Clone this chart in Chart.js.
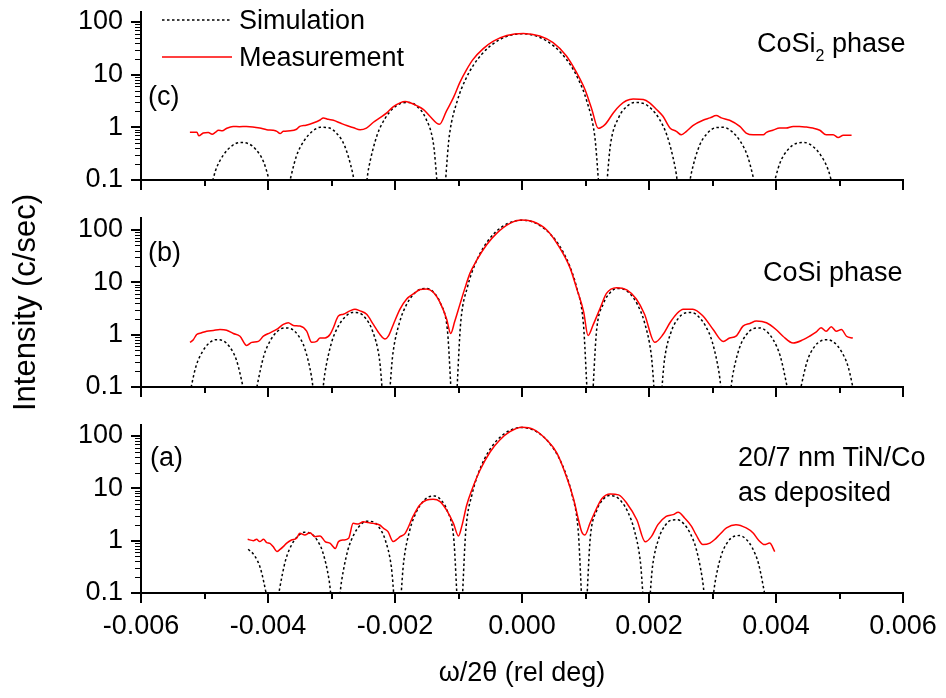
<!DOCTYPE html>
<html>
<head>
<meta charset="utf-8">
<script src="https://cdn.jsdelivr.net/npm/chart.js@4.4.1/dist/chart.umd.min.js"></script>
<style>
  html, body { margin: 0; padding: 0; background: #ffffff; }
  #wrap { position: relative; width: 946px; height: 698px; overflow: hidden; background: #ffffff;
          font-family: "Liberation Sans", Arial, sans-serif; color: #000; }
  canvas { position: absolute; left: 0; }
  .t { position: absolute; font-size: 27px; line-height: 27px; white-space: nowrap; transform: translateY(-50%); }
  .sub { font-size: 16px; position: relative; top: 9px; }
</style>
</head>
<body>
<div id="wrap">
  <canvas id="cC" width="946" height="200" style="top:0px"></canvas>
  <canvas id="cB" width="946" height="400" style="top:100px"></canvas>
  <canvas id="cA" width="946" height="298" style="top:400px"></canvas>

  <svg style="position:absolute;left:0;top:0" width="260" height="70">
    <line x1="162" y1="20" x2="232" y2="20" stroke="#000" stroke-width="1.5" stroke-dasharray="2.5 2.5"/>
    <line x1="162" y1="57" x2="232" y2="57" stroke="#ff0000" stroke-width="1.5"/>
  </svg>
  <div class="t" style="left:239px; top:20px">Simulation</div>
  <div class="t" style="left:239px; top:57px">Measurement</div>

  <div class="t" style="left:148px; top:96px">(c)</div>
  <div class="t" style="left:148px; top:252px">(b)</div>
  <div class="t" style="left:150px; top:457px">(a)</div>

  <div class="t" style="left:757px; top:45px">CoSi<span class="sub">2</span> phase</div>
  <div class="t" style="left:763px; top:272px">CoSi phase</div>
  <div class="t" style="left:738px; top:457px">20/7 nm TiN/Co</div>
  <div class="t" style="left:738px; top:492px">as deposited</div>
</div>

<script>
// ---------------- tick values ----------------
const xMajorTicks = [-0.006, -0.004, -0.002, 0, 0.002, 0.004, 0.006];
const xMinorTicks = [-0.005, -0.003, -0.001, 0.001, 0.003, 0.005];
const yMajorTicks = [0.1, 1, 10, 100];
const yMinorTicks = [0.2,0.3,0.4,0.5,0.6,0.7,0.8,0.9, 2,3,4,5,6,7,8,9, 20,30,40,50,60,70,80,90];

// ---------------- panel (c) CoSi2 phase ----------------
const simX_c = [-0.005207,-0.00508,-0.004953,-0.004826,-0.004699,-0.004572,-0.004445,-0.004318,-0.004191,-0.004064,
-0.003937,-0.00381,-0.003683,-0.003556,-0.003429,-0.003302,-0.003175,-0.003048,-0.002921,-0.002794,
-0.002667,-0.00254,-0.002413,-0.002286,-0.002159,-0.002032,-0.001905,-0.001778,-0.001651,-0.001524,
-0.001397,-0.00127,-0.001143,-0.001016,-0.000889,-0.000762,-0.000635,-0.000508,-0.000381,-0.000254,
-0.000127,0,
0.000127,0.000254,0.000381,0.000508,0.000635,0.000762,0.000889,0.001016,0.001143,0.00127,
0.001397,0.001524,0.001651,0.001778,0.001905,0.002032,0.002159,0.002286,0.002413,0.00254,
0.002667,0.002794,0.002921,0.003048,0.003175,0.003302,0.003429,0.003556,0.003683,0.00381,
0.003937,0.004064,0.004191,0.004318,0.004445,0.004572,0.004699,0.004826,0.004953,0.00508,0.005207];
const simY_c = [0.036,0.02,0.040,0.151,0.302,0.441,0.516,0.495,0.380,0.213,
0.063,0.02,0.071,0.276,0.562,0.838,1.00,0.984,0.775,0.447,
0.135,0.02,0.171,0.687,1.46,2.28,2.86,2.97,2.50,1.55,
0.508,0.02,0.717,3.28,8.12,15.3,24.3,34.4,44.2,52.5,
58.1,60,
58.1,52.5,44.2,34.4,24.3,15.3,8.12,3.28,0.717,0.02,
0.508,1.55,2.50,2.97,2.86,2.28,1.46,0.687,0.171,0.02,
0.135,0.447,0.775,0.984,1.00,0.838,0.562,0.276,0.071,0.02,
0.063,0.213,0.380,0.495,0.516,0.441,0.302,0.151,0.040,0.02,0.036];
const measX_c = [-0.00523,-0.00512,-0.00509,-0.00502,-0.00494,-0.00488,-0.00483,-0.00478,-0.00472,-0.00465,
-0.00455,-0.00445,-0.00434,-0.00424,-0.00413,-0.00402,-0.00392,-0.00386,-0.00381,-0.00376,
-0.00365,-0.00355,-0.0035,-0.0034,-0.00329,-0.00318,-0.00313,-0.00305,-0.00297,-0.00287,
-0.00276,-0.00265,-0.00255,-0.00245,-0.00234,-0.00224,-0.00213,-0.00203,-0.00192,-0.00184,
-0.00176,-0.00166,-0.00155,-0.00145,-0.0013,-0.00119,-0.00108,-0.00098,-0.00087,-0.00077,
-0.00061,-0.00045,-0.00024,0.00002,0.00028,0.00049,0.0007,0.00086,0.00099,0.0011,
0.0012,0.00131,0.00144,0.00154,0.00164,0.00175,0.00191,0.00201,0.00212,0.00222,
0.00233,0.00243,0.00251,0.00259,0.00269,0.00285,0.00296,0.00306,0.00314,0.00327,
0.00343,0.00353,0.00364,0.0038,0.00385,0.00395,0.00406,0.00416,0.00427,0.00437,
0.00448,0.00458,0.00469,0.00479,0.0049,0.00498,0.00506,0.00519];
const measY_c = [0.81,0.81,0.69,0.78,0.80,0.74,0.80,0.88,0.86,0.96,
1.04,1.03,1.04,1.02,0.97,0.90,0.88,0.84,0.76,0.84,
0.86,0.92,1.04,1.10,1.21,1.38,1.51,1.42,1.36,1.22,
1.08,0.98,0.90,0.97,1.25,1.51,1.88,2.45,2.92,3.09,
2.92,2.59,2.17,1.62,1.14,2.04,3.66,7.05,12.6,19.5,
31.2,43.3,55.6,60.8,54.2,40.5,22.6,10.9,5.27,2.19,
0.96,1.14,1.9,2.6,3.2,3.47,3.38,2.92,2.18,1.62,
0.97,0.84,0.72,0.84,1.08,1.36,1.51,1.67,1.51,1.36,
1.04,0.78,0.72,0.72,0.80,0.88,0.97,0.97,1.04,1.04,
1.01,0.97,0.88,0.72,0.72,0.64,0.71,0.71];

// ---------------- panel (b) CoSi phase ----------------
const simX_b = [-0.005243,-0.005136,-0.005029,-0.004922,-0.004815,-0.004708,-0.004601,-0.004494,-0.004387,-0.00428,
-0.004173,-0.004066,-0.003959,-0.003852,-0.003745,-0.003638,-0.003531,-0.003424,-0.003317,-0.00321,
-0.003103,-0.002996,-0.002889,-0.002782,-0.002675,-0.002568,-0.002461,-0.002354,-0.002247,-0.00214,
-0.002033,-0.001926,-0.001819,-0.001712,-0.001605,-0.001498,-0.001391,-0.001284,-0.001177,-0.00107,
-0.000963,-0.000856,-0.000749,-0.000642,-0.000535,-0.000428,-0.000321,-0.000214,-0.000107,0,
0.000107,0.000214,0.000321,0.000428,0.000535,0.000642,0.000749,0.000856,0.000963,0.00107,
0.001177,0.001284,0.001391,0.001498,0.001605,0.001712,0.001819,0.001926,0.002033,0.00214,
0.002247,0.002354,0.002461,0.002568,0.002675,0.002782,0.002889,0.002996,0.003103,0.00321,
0.003317,0.003424,0.003531,0.003638,0.003745,0.003852,0.003959,0.004066,0.004173,0.00428,
0.004387,0.004494,0.004601,0.004708,0.004815,0.004922,0.005029,0.005136,0.005243];
const simY_b = [0.064,0.244,0.48,0.695,0.80,0.760,0.577,0.318,0.092,0.02,
0.103,0.392,0.784,1.15,1.34,1.29,0.987,0.554,0.164,0.02,
0.187,0.725,1.47,2.19,2.63,2.58,2.03,1.17,0.355,0.02,
0.434,1.75,3.72,5.80,7.29,7.58,6.36,3.94,1.29,0.02,
1.82,8.31,20.6,38.7,61.6,87.1,112.0,133.0,147.1,152,
147.1,133.0,112.0,87.1,61.6,38.7,20.6,8.31,1.82,0.02,
1.29,3.94,6.36,7.58,7.29,5.80,3.72,1.75,0.434,0.02,
0.355,1.17,2.03,2.58,2.63,2.19,1.47,0.725,0.187,0.02,
0.164,0.554,0.987,1.29,1.34,1.15,0.784,0.392,0.103,0.02,
0.092,0.318,0.577,0.760,0.80,0.695,0.48,0.244,0.064];
const measX_b = [-0.005228,-0.005176,-0.005123,-0.005045,-0.004966,-0.004861,-0.004756,-0.004651,-0.004546,-0.004441,
-0.004336,-0.004257,-0.004152,-0.004073,-0.003969,-0.003864,-0.003759,-0.00368,-0.003601,-0.003496,
-0.003391,-0.003312,-0.003234,-0.003181,-0.003102,-0.003024,-0.002971,-0.002892,-0.002813,-0.002709,
-0.00263,-0.002551,-0.002446,-0.002341,-0.002236,-0.002157,-0.002105,-0.002026,-0.001921,-0.001816,
-0.001711,-0.001606,-0.001501,-0.001396,-0.001291,-0.001186,-0.001123,-0.00106,-0.00098,-0.0009,
-0.00082,-0.00071,-0.00056,-0.0004,-0.00019,0,0.00018,0.00039,0.0006,0.00076,
0.00086,0.00097,0.00104,0.00112,0.00123,0.00133,0.00149,0.00165,0.0018,0.00193,
0.00209,0.00222,0.00233,0.00243,0.00254,0.00269,0.00285,0.00301,0.00317,0.00327,
0.00337,0.00348,0.00359,0.00369,0.00385,0.004,0.00411,0.00427,0.00443,0.00453,
0.00463,0.00471,0.00479,0.00487,0.00495,0.00503,0.00511,0.00521];
const measY_b = [0.71,0.80,1.0,1.08,1.16,1.20,1.25,1.21,1.05,0.93,
0.62,0.71,0.74,0.93,1.08,1.25,1.56,1.68,1.49,1.45,
1.16,0.71,0.74,0.86,0.86,1.0,1.35,2.26,2.44,2.83,
3.05,2.83,2.44,1.56,1.0,0.82,0.93,1.56,3.05,4.76,
5.94,7.21,7.43,6.40,4.10,1.95,1.05,1.77,3.68,7.6,
14.7,26.5,51,85,132,153,142,99,44,18.3,
7.6,2.74,0.96,1.53,3.17,6.1,7.85,7.1,4.76,2.44,
0.71,1.0,1.68,2.44,3.05,3.05,2.26,1.25,0.74,0.86,
0.93,1.45,1.63,1.81,1.68,1.25,0.93,0.69,0.80,0.93,
1.11,1.35,1.16,1.41,1.16,1.25,0.93,0.86];

// ---------------- panel (a) 20/7 nm TiN/Co as deposited ----------------
const simX_a = [-0.004312,-0.004214,-0.004116,-0.004018,-0.00392,-0.003822,-0.003724,-0.003626,-0.003528,-0.00343,
-0.003332,-0.003234,-0.003136,-0.003038,-0.00294,-0.002842,-0.002744,-0.002646,-0.002548,-0.00245,
-0.002352,-0.002254,-0.002156,-0.002058,-0.00196,-0.001862,-0.001764,-0.001666,-0.001568,-0.00147,
-0.001372,-0.001274,-0.001176,-0.001078,-0.00098,-0.000882,-0.000784,-0.000686,-0.000588,-0.00049,
-0.000392,-0.000294,-0.000196,-0.000098,0,
0.000098,0.000196,0.000294,0.000392,0.00049,0.000588,0.000686,0.000784,0.000882,0.00098,
0.001078,0.001176,0.001274,0.001372,0.00147,0.001568,0.001666,0.001764,0.001862,0.00196,
0.002058,0.002156,0.002254,0.002352,0.00245,0.002548,0.002646,0.002744,0.002842,0.00294,
0.003038,0.003136,0.003234,0.003332,0.00343,0.003528,0.003626,0.003724,0.003822,0.00392,0.004018];
const simY_a = [0.686,0.521,0.287,0.084,0.02,
0.111,0.421,0.842,1.23,1.44,1.38,1.06,0.595,0.176,0.02,
0.167,0.648,1.32,1.97,2.35,2.31,1.82,1.05,0.318,0.02,
0.407,1.64,3.49,5.44,6.85,7.11,5.96,3.70,1.21,0.02,
1.73,7.93,19.6,36.9,58.8,83.1,106.8,126.9,140.3,145,
140.3,126.9,106.8,83.1,58.8,36.9,19.6,7.93,1.73,0.02,
1.24,3.77,6.08,7.25,6.98,5.55,3.56,1.67,0.415,0.02,
0.34,1.12,1.95,2.47,2.51,2.10,1.41,0.69,0.18,0.02,
0.153,0.516,0.920,1.20,1.25,1.07,0.731,0.365,0.096,0.02,0.087];
const measX_a = [-0.00432,-0.00423,-0.00418,-0.00413,-0.00407,-0.00402,-0.00397,-0.00392,-0.00386,-0.00381,
-0.00376,-0.00371,-0.00363,-0.00355,-0.0035,-0.00342,-0.00334,-0.00326,-0.00318,-0.0031,
-0.00302,-0.00294,-0.00289,-0.00281,-0.00273,-0.00266,-0.00258,-0.0025,-0.00242,-0.00234,
-0.00224,-0.00218,-0.00211,-0.00203,-0.00197,-0.00192,-0.00184,-0.00171,-0.00161,-0.0015,
-0.0014,-0.00129,-0.00119,-0.00108,-0.001,-0.00095,-0.00087,-0.00079,-0.00066,-0.0005,
-0.00035,-0.00019,0,0.00018,0.00039,0.00055,0.0007,0.00081,0.00089,0.00094,
0.00099,0.00107,0.00115,0.00126,0.00139,0.00152,0.00165,0.00181,0.00194,0.00204,
0.00214,0.00227,0.00238,0.00246,0.00256,0.00267,0.00274,0.00285,0.00296,0.00303,
0.00311,0.00322,0.00337,0.00353,0.00364,0.00372,0.00382,0.0039,0.00398];
const measY_a = [1.06,1.0,1.06,0.96,1.06,0.92,0.89,0.77,0.62,0.68,
0.77,0.89,1.03,1.11,1.38,1.28,1.42,1.19,1.23,0.96,
0.89,0.71,0.96,1.03,1.11,2.14,2.08,2.30,2.21,2.14,
1.99,1.72,1.49,0.96,1.06,1.19,1.38,3.0,4.8,6.0,
6.15,5.56,3.86,2.14,1.23,1.85,4.8,9.3,22.4,50,
84,121,147,134,84,47,16.7,6.4,2.48,1.48,
1.28,2.14,3.57,6.4,7.8,7.5,5.2,2.48,0.95,1.21,
2.02,2.92,3.14,3.48,2.72,1.88,1.30,0.84,0.90,1.04,
1.30,1.75,2.02,1.75,1.40,1.04,0.84,0.90,0.62];

// ---------------- drawing ----------------
const FONT = '"Liberation Sans", Arial, sans-serif';
Chart.defaults.font.family = FONT;
Chart.defaults.color = '#000';

function pts(xs, ys) {
  const n = Math.min(xs.length, ys.length);
  const out = [];
  for (let i = 0; i < n; i++) out.push({ x: xs[i], y: ys[i] });
  return out;
}

const tickMarks = {
  id: 'tickMarks',
  afterDraw(chart) {
    const { ctx, chartArea: a, scales } = chart;
    const xs = scales.x, ys = scales.y;
    ctx.save();
    ctx.strokeStyle = '#000';
    const seg = (x1, y1, x2, y2, w) => {
      ctx.lineWidth = w; ctx.beginPath(); ctx.moveTo(x1, y1); ctx.lineTo(x2, y2); ctx.stroke();
    };
    xMajorTicks.forEach(v => { const p = Math.round(xs.getPixelForValue(v)); seg(p, a.bottom, p, a.bottom + 10, 2); });
    xMinorTicks.forEach(v => { const p = Math.round(xs.getPixelForValue(v)); seg(p, a.bottom, p, a.bottom + 6, 2); });
    yMajorTicks.forEach(v => { if (v <= ys.max) { const p = Math.round(ys.getPixelForValue(v)); seg(a.left, p, a.left - 10, p, 2); } });
    yMinorTicks.forEach(v => { if (v <= ys.max) { const p = Math.round(ys.getPixelForValue(v)) + 0.5; seg(a.left, p, a.left - 6, p, 1); } });
    ctx.restore();
  }
};

function makePanel(id, p) {
  return new Chart(document.getElementById(id), {
    type: 'line',
    data: {
      datasets: [
        { label: 'Measurement', data: pts(p.measX, p.measY), borderColor: '#ff0000', borderWidth: 1.5,
          pointRadius: 0, fill: false, cubicInterpolationMode: 'monotone', order: 0 },
        { label: 'Simulation', data: pts(p.simX, p.simY), borderColor: '#000000', borderWidth: 1.5,
          borderDash: [2.5, 2.5], pointRadius: 0, fill: false, cubicInterpolationMode: 'monotone', order: 1 }
      ]
    },
    options: {
      responsive: false, animation: false, devicePixelRatio: 1,
      layout: { padding: { left: 0, right: 43, top: p.top, bottom: 0 } },
      plugins: { legend: { display: false }, tooltip: { enabled: false } },
      scales: {
        x: {
          type: 'linear', min: -0.006, max: 0.006,
          grid: { display: false, drawTicks: false },
          border: { display: true, color: '#000', width: 2 },
          afterBuildTicks: s => { s.ticks = xMajorTicks.map(v => ({ value: v })); },
          afterFit: s => { s.height = p.xHeight; s.paddingLeft = 0; s.paddingRight = 0; },
          ticks: {
            display: p.showX, padding: 17, maxRotation: 0, autoSkip: false,
            font: { size: 27, family: FONT }, color: '#000',
            callback: v => (Math.abs(v) < 1e-12 ? '0.000' : Number(v).toFixed(3))
          },
          title: {
            display: p.showX, text: 'ω/2θ (rel deg)', color: '#000',
            font: { size: 27, family: FONT }, padding: { top: 0, bottom: 8 }
          }
        },
        y: {
          type: 'logarithmic', min: 0.1, max: p.ymax,
          grid: { display: false, drawTicks: false },
          border: { display: true, color: '#000', width: 2 },
          afterBuildTicks: s => { s.ticks = yMajorTicks.map(v => ({ value: v })); },
          afterFit: s => { s.width = 141; s.paddingTop = 0; s.paddingBottom = 0; },
          ticks: {
            padding: 18, autoSkip: false, font: { size: 27, family: FONT }, color: '#000',
            callback: v => String(v)
          },
          title: {
            display: p.showYTitle, text: 'Intensity (c/sec)', color: '#000',
            font: { size: 31, family: FONT }, padding: { top: 8, bottom: 0 }
          }
        }
      }
    },
    plugins: [tickMarks]
  });
}

makePanel('cC', { simX: simX_c, simY: simY_c, measX: measX_c, measY: measY_c,
  top: 12, xHeight: 20, ymax: 155, showX: false, showYTitle: false });
makePanel('cB', { simX: simX_b, simY: simY_b, measX: measX_b, measY: measY_b,
  top: 118, xHeight: 113, ymax: 167, showX: false, showYTitle: true });
makePanel('cA', { simX: simX_a, simY: simY_a, measX: measX_a, measY: measY_a,
  top: 25, xHeight: 105, ymax: 162, showX: true, showYTitle: false });
</script>
</body>
</html>
